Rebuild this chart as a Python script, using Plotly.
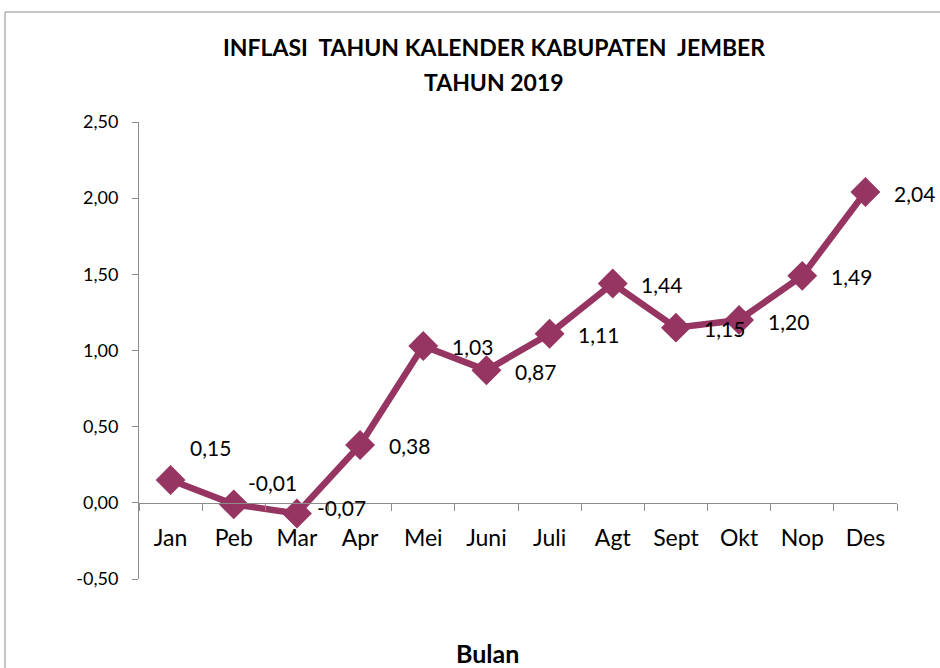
import plotly.graph_objects as go

months = ["Jan", "Peb", "Mar", "Apr", "Mei", "Juni", "Juli", "Agt", "Sept", "Okt", "Nop", "Des"]
inflasi = [0.15, -0.01, -0.07, 0.38, 1.03, 0.87, 1.11, 1.44, 1.15, 1.20, 1.49, 2.04]
label_text = ["0,15", "-0,01", "-0,07", "0,38", "1,03", "0,87", "1,11", "1,44", "1,15", "1,20", "1,49", "2,04"]
y_ticks = [-0.5, 0.0, 0.5, 1.0, 1.5, 2.0, 2.5]
y_tick_labels = ["-0,50", "0,00", "0,50", "1,00", "1,50", "2,00", "2,50"]
title_lines = ["INFLASI  TAHUN KALENDER KABUPATEN  JEMBER", "TAHUN 2019"]
x_title = "Bulan"

FONT = "Lato"
COLOR = "#963462"
W, H = 940, 668
ML, MR, MT, MB = 139, 43, 122, 89
PW = W - ML - MR
PH = H - MT - MB

def px_x(p):
    return (p - ML) / PW

def px_y(p):
    return (H - MB - p) / PH

fig = go.Figure()
fig.add_trace(go.Scatter(
    x=months, y=inflasi, mode="lines+markers",
    line=dict(color=COLOR, width=6.5),
    marker=dict(symbol="diamond", size=23, color=COLOR),
    hoverinfo="x+y", showlegend=False,
))

shifts = {0: (40, 32), 1: (39, 22), 2: (45, 6)}
annotations = []
for i, (m, v, t) in enumerate(zip(months, inflasi, label_text)):
    dx, dy = shifts.get(i, (49, -1))
    annotations.append(dict(
        x=m, y=v, xref="x", yref="y", text=t, showarrow=False,
        xanchor="center", yanchor="middle",
        xshift=dx, yshift=dy, font=dict(family=FONT, size=21, color="black"),
    ))

annotations.append(dict(x=px_x(494), y=px_y(47), xref="paper", yref="paper",
                        xanchor="center", yanchor="middle",
                        text="<b>" + title_lines[0] + "</b>", showarrow=False,
                        font=dict(family=FONT, size=23, color="black")))
annotations.append(dict(x=px_x(494), y=px_y(82), xref="paper", yref="paper",
                        xanchor="center", yanchor="middle",
                        text="<b>" + title_lines[1] + "</b>", showarrow=False,
                        font=dict(family=FONT, size=23, color="black")))
annotations.append(dict(x=px_x(487), y=px_y(653), xref="paper", yref="paper",
                        xanchor="center", yanchor="middle",
                        text="<b>" + x_title + "</b>", showarrow=False,
                        font=dict(family=FONT, size=25, color="black")))

fig.update_layout(
    width=W, height=H,
    margin=dict(l=ML, r=MR, t=MT, b=MB),
    paper_bgcolor="white", plot_bgcolor="white",
    separators=",.",
    annotations=annotations,
    shapes=[dict(type="rect", xref="paper", yref="paper",
                 x0=px_x(5), x1=px_x(960), y0=px_y(12), y1=px_y(700),
                 line=dict(color="#8c8c8c", width=1), fillcolor="rgba(0,0,0,0)", layer="below")],
    font=dict(family=FONT, color="black"),
    xaxis=dict(
        type="category", range=[-0.5, 11.5],
        anchor="free", position=1/6,
        showline=True, linecolor="#8c8c8c", linewidth=1,
        ticks="outside", ticklen=7, tickcolor="#8c8c8c", tickson="boundaries",
        showgrid=False, zeroline=False,
        tickfont=dict(family=FONT, size=23, color="black"),
        ticklabelstandoff=15,
    ),
    yaxis=dict(
        range=[-0.5, 2.5], tickvals=y_ticks, ticktext=y_tick_labels,
        showline=True, linecolor="#8c8c8c", linewidth=1,
        ticks="outside", ticklen=6, tickcolor="#8c8c8c",
        showgrid=False, zeroline=False,
        tickfont=dict(family=FONT, size=18, color="black"),
        ticklabelstandoff=10,
    ),
)

fig.write_html("out.html", config={"displayModeBar": False},
               post_script="document.body.style.margin='0';document.body.style.overflow='hidden';")
